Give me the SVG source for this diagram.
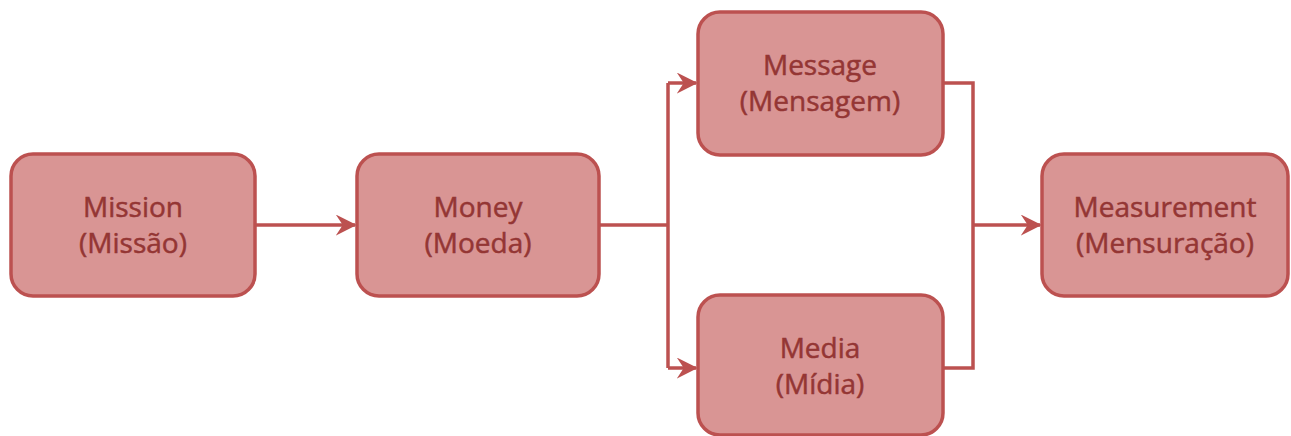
<svg xmlns="http://www.w3.org/2000/svg" width="1291" height="436" viewBox="0 0 1291 436">
<style>
.box{fill:#d99594;stroke:#bc5150;stroke-width:3.5}
.lbl{font-family:"Open Sans","Liberation Sans",sans-serif;font-size:28px;fill:#943634;stroke:#943634;stroke-width:0.5;text-anchor:middle}
.con{fill:none;stroke:#bc5150;stroke-width:3.5}
</style>
<defs>
<marker id="arr" viewBox="0 0 12 12" refX="11" refY="6" markerWidth="6" markerHeight="6" markerUnits="strokeWidth" orient="auto">
<path d="M0,0 L12,6 L0,12 L4,6 z" fill="#bc5150"/>
</marker>
</defs>
<rect width="1291" height="436" fill="#ffffff"/>
<g id="connectors">
<path class="con" d="M255,225 H355" marker-end="url(#arr)"/>
<path class="con" d="M599,225 H668"/>
<path class="con" d="M668,83 V368"/>
<path class="con" d="M668,83 H696" marker-end="url(#arr)"/>
<path class="con" d="M668,368 H696" marker-end="url(#arr)"/>
<path class="con" d="M944,83 H973 V368 H944"/>
<path class="con" d="M973,225 H1040" marker-end="url(#arr)"/>
</g>
<g id="mission">
<rect class="box" x="11" y="154" width="244" height="142" rx="22"/>
<text class="lbl" x="133" y="217">Mission</text>
<text class="lbl" x="133" y="253">(Missão)</text>
</g>
<g id="money">
<rect class="box" x="357" y="154" width="242" height="142" rx="22"/>
<text class="lbl" x="478" y="217">Money</text>
<text class="lbl" x="478" y="253">(Moeda)</text>
</g>
<g id="message">
<rect class="box" x="698" y="12" width="245" height="143" rx="22"/>
<text class="lbl" x="820" y="75">Message</text>
<text class="lbl" x="820" y="111">(Mensagem)</text>
</g>
<g id="media">
<rect class="box" x="698" y="295" width="245" height="140" rx="22"/>
<text class="lbl" x="820" y="358">Media</text>
<text class="lbl" x="820" y="394">(Mídia)</text>
</g>
<g id="measurement">
<rect class="box" x="1042" y="154" width="246" height="142" rx="22"/>
<text class="lbl" x="1165" y="217">Measurement</text>
<text class="lbl" x="1165" y="253">(Mensuração)</text>
</g>
</svg>
